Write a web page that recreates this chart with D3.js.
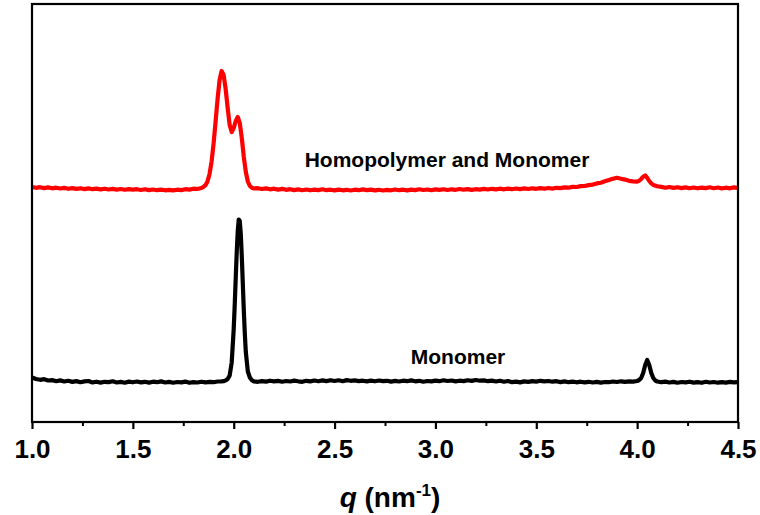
<!DOCTYPE html>
<html>
<head>
<meta charset="utf-8">
<script src="https://cdn.jsdelivr.net/npm/d3@7"></script>
<style>
  body { margin: 0; background: #fff; }
  text { font-family: "Liberation Sans", Arial, sans-serif; font-weight: bold; fill: #000; }
</style>
</head>
<body>
<div id="container"></div>
<script>
// x ticks
const majorTicks = [1.0, 1.5, 2.0, 2.5, 3.0, 3.5, 4.0, 4.5];
const minorTicks = [1.25, 1.75, 2.25, 2.75, 3.25, 3.75, 4.25];

// series labels
const labels = ["Homopolymer and Monomer", "Monomer"];

// Monomer: [q, intensity]
const monomer = [
  [1.00,44.5],[1.02,43.0],[1.04,42.2],[1.06,42.8],[1.08,41.5],[1.10,41.9],[1.12,40.8],[1.14,41.6],
  [1.16,40.5],[1.18,41.2],[1.20,40.1],[1.22,40.9],[1.24,39.8],[1.26,40.6],[1.28,41.0],[1.30,39.6],
  [1.32,40.3],[1.34,39.4],[1.36,40.2],[1.38,39.9],[1.40,40.7],[1.42,39.5],[1.44,40.1],[1.46,39.3],
  [1.48,40.4],[1.50,39.7],[1.52,40.5],[1.54,39.6],[1.56,40.2],[1.58,39.4],[1.60,40.3],[1.62,39.8],
  [1.64,40.6],[1.66,39.5],[1.68,40.1],[1.70,39.3],[1.72,40.0],[1.74,39.6],[1.76,40.4],[1.78,39.2],
  [1.80,39.9],[1.82,39.5],[1.84,40.3],[1.86,39.6],[1.88,40.2],[1.90,39.8],[1.92,40.5],[1.94,40.6],
  [1.95,40.8],[1.96,41.6],[1.97,43.0],[1.98,46.5],[1.99,59.5],[2.00,93],[2.005,117],[2.01,144],
  [2.015,170],[2.02,191],[2.025,202.5],[2.03,201],[2.035,188],[2.04,166],[2.045,139],[2.05,112],
  [2.055,88.5],[2.06,70],[2.07,50.5],[2.08,44.5],[2.09,41.8],[2.10,40.6],
  [2.12,40.2],[2.14,40.9],[2.16,40.4],[2.18,41.3],[2.20,40.6],[2.22,41.1],[2.24,40.3],[2.26,41.0],
  [2.28,40.5],[2.30,41.4],[2.32,40.7],[2.34,40.2],[2.36,41.2],[2.38,40.6],[2.40,41.5],[2.42,40.8],
  [2.44,41.6],[2.46,40.9],[2.48,41.8],[2.50,41.0],[2.52,41.7],[2.54,40.8],[2.56,41.9],[2.58,41.2],
  [2.60,41.6],[2.62,40.9],[2.64,41.3],[2.66,40.6],[2.68,41.4],[2.70,40.7],[2.72,41.5],[2.74,40.9],
  [2.76,41.2],[2.78,40.4],[2.80,41.1],[2.82,40.5],[2.84,41.3],[2.86,40.8],[2.88,41.6],[2.90,40.7],
  [2.92,41.2],[2.94,40.3],[2.96,41.0],[2.98,40.6],[3.00,41.4],[3.02,40.8],[3.04,41.7],[3.06,41.0],
  [3.08,41.5],[3.10,40.6],[3.12,41.3],[3.14,40.9],[3.16,41.8],[3.18,41.1],[3.20,42.0],[3.22,41.3],
  [3.24,41.6],[3.26,40.8],[3.28,41.4],[3.30,40.5],[3.32,41.2],[3.34,40.3],[3.36,41.0],[3.38,39.8],
  [3.40,40.4],[3.42,39.6],[3.44,40.6],[3.46,40.1],[3.48,40.9],[3.50,40.4],[3.52,41.2],[3.54,40.6],
  [3.56,41.0],[3.58,40.3],[3.60,40.8],[3.62,39.9],[3.64,40.6],[3.66,39.8],[3.68,40.4],[3.70,39.7],
  [3.72,40.3],[3.74,39.6],[3.76,40.2],[3.78,39.5],[3.80,40.1],[3.82,39.4],[3.84,40.0],[3.86,39.8],
  [3.88,40.5],[3.90,40.0],[3.92,40.7],[3.94,40.2],[3.96,40.6],[3.98,40.4],
  [4.00,41.0],[4.01,42.0],[4.02,44.0],[4.03,49.0],[4.04,57.0],[4.05,62.0],[4.06,57.0],[4.07,49.0],
  [4.08,44.0],[4.09,41.5],[4.10,40.5],
  [4.12,39.8],[4.14,40.4],[4.16,39.5],[4.18,40.1],[4.20,39.3],[4.22,40.0],[4.24,39.6],[4.26,40.3],
  [4.28,39.4],[4.30,39.9],[4.32,39.2],[4.34,40.2],[4.36,39.5],[4.38,40.0],[4.40,39.3],[4.42,39.9],
  [4.44,39.4],[4.46,40.1],[4.48,39.6],[4.50,39.9]
];

// Homopolymer and Monomer (already offset upward as in the picture)
const homopolymer = [
  [1.00,235.0],[1.02,234.2],[1.04,234.8],[1.06,233.9],[1.08,234.6],[1.10,233.7],[1.12,234.3],[1.14,233.5],
  [1.16,234.1],[1.18,233.2],[1.20,233.9],[1.22,233.1],[1.24,233.7],[1.26,232.9],[1.28,233.6],[1.30,232.8],
  [1.32,233.4],[1.34,232.6],[1.36,233.3],[1.38,232.5],[1.40,233.1],[1.42,232.4],[1.44,233.0],[1.46,232.2],
  [1.48,232.9],[1.50,232.3],[1.52,232.8],[1.54,232.0],[1.56,232.7],[1.58,231.9],[1.60,232.5],[1.62,231.8],
  [1.64,232.4],[1.66,231.7],[1.68,232.2],[1.70,231.6],[1.72,232.3],[1.74,231.9],[1.76,232.8],[1.78,232.4],
  [1.80,233.3],[1.82,233.0],[1.84,234.0],
  [1.85,235.1],[1.86,236.8],[1.87,240.6],[1.88,247.8],[1.89,260],[1.90,278],[1.91,300],[1.92,323],
  [1.93,342],[1.94,351],[1.95,347],[1.96,333],[1.97,314],[1.98,297],[1.99,290],[2.00,294],
  [2.01,301],[2.02,305],[2.03,299],[2.04,284],[2.05,265],[2.06,250],[2.07,240.5],[2.08,236],
  [2.09,234.3],[2.10,233.6],
  [2.12,233.8],[2.14,233.0],[2.16,233.6],[2.18,232.7],[2.20,233.3],[2.22,232.4],[2.24,233.1],[2.26,232.2],
  [2.28,232.8],[2.30,231.9],[2.32,232.6],[2.34,231.8],[2.36,232.5],[2.38,231.7],[2.40,232.4],[2.42,231.9],
  [2.44,232.7],[2.46,231.8],[2.48,232.3],[2.50,231.6],[2.52,232.4],[2.54,231.7],[2.56,232.2],[2.58,231.5],
  [2.60,232.3],[2.62,231.8],[2.64,232.6],[2.66,231.9],[2.68,232.4],[2.70,231.6],[2.72,232.2],[2.74,231.5],
  [2.76,232.1],[2.78,231.7],[2.80,232.5],[2.82,231.8],[2.84,232.3],[2.86,231.6],[2.88,232.4],[2.90,231.9],
  [2.92,232.7],[2.94,232.0],[2.96,232.5],[2.98,231.8],[3.00,232.6],[3.02,232.1],[3.04,232.8],[3.06,232.0],
  [3.08,232.7],[3.10,232.2],[3.12,233.0],[3.14,232.3],[3.16,232.9],[3.18,232.1],[3.20,232.8],[3.22,232.4],
  [3.24,233.1],[3.26,232.5],[3.28,233.2],[3.30,232.6],[3.32,233.3],[3.34,232.7],[3.36,233.4],[3.38,232.8],
  [3.40,233.5],[3.42,232.9],[3.44,233.6],[3.46,233.0],[3.48,233.7],[3.50,233.2],[3.52,233.9],[3.54,233.3],
  [3.56,234.0],[3.58,233.4],[3.60,234.2],[3.62,233.9],[3.64,234.6],[3.66,234.3],[3.68,235.1],[3.70,235.0],
  [3.72,235.9],[3.74,236.0],[3.76,236.9],[3.78,237.4],[3.80,238.6],[3.82,239.3],[3.84,240.7],[3.86,241.9],
  [3.88,243.2],[3.90,244.2],[3.92,243.3],[3.94,242.4],[3.96,241.2],[3.98,240.6],
  [4.00,240.4],[4.01,241.2],[4.02,243.0],[4.03,245.3],[4.04,246.6],[4.05,244.2],[4.06,241.0],[4.07,238.6],
  [4.08,237.1],[4.10,235.8],[4.12,235.1],
  [4.14,234.2],[4.16,235.0],[4.18,234.1],[4.20,234.8],[4.22,233.9],[4.24,234.6],[4.26,233.8],[4.28,234.5],
  [4.30,233.7],[4.32,234.4],[4.34,233.9],[4.36,234.7],[4.38,233.8],[4.40,234.5],[4.42,233.6],[4.44,234.3],
  [4.46,233.7],[4.48,234.6],[4.50,234.1]
];

const width = 760, height = 515;
const margin = { top: 4, right: 22, bottom: 93, left: 32 };

const svg = d3.select('#container')
    .append('svg')
    .attr('width', width)
    .attr('height', height);

const x = d3.scaleLinear()
    .domain([1.0, 4.5])
    .range([margin.left, width - margin.right]);

const y = d3.scaleLinear()
    .domain([0, 418])
    .range([height - margin.bottom, margin.top]);

const line = d3.line()
    .x(d => x(d[0]))
    .y(d => y(d[1]));

// 曲线
svg.append('path')
    .datum(monomer)
    .attr('fill', 'none')
    .attr('stroke', '#000')
    .attr('stroke-width', 4.2)
    .attr('stroke-linejoin', 'round')
    .attr('d', line);

svg.append('path')
    .datum(homopolymer)
    .attr('fill', 'none')
    .attr('stroke', '#ff0000')
    .attr('stroke-width', 4.2)
    .attr('stroke-linejoin', 'round')
    .attr('d', line);

// 边框
svg.append('rect')
    .attr('x', margin.left)
    .attr('y', margin.top)
    .attr('width', width - margin.left - margin.right)
    .attr('height', height - margin.top - margin.bottom)
    .attr('fill', 'none')
    .attr('stroke', '#000')
    .attr('stroke-width', 2.2);

// x 轴刻度
const axisY = height - margin.bottom;
const majorAxis = svg.append('g')
    .attr('transform', `translate(0,${axisY})`)
    .call(d3.axisBottom(x).tickValues(majorTicks).tickSize(7).tickFormat(d3.format('.1f')));
majorAxis.select('.domain').remove();
majorAxis.selectAll('line').attr('stroke-width', 2.2);
majorAxis.selectAll('text')
    .attr('y', 36)
    .attr('dy', 0)
    .attr('font-size', 26)
    .style('font-family', '"Liberation Sans", Arial, sans-serif')
    .style('font-weight', 'bold');

const minorAxis = svg.append('g')
    .attr('transform', `translate(0,${axisY})`)
    .call(d3.axisBottom(x).tickValues(minorTicks).tickSize(4).tickFormat(''));
minorAxis.select('.domain').remove();
minorAxis.selectAll('line').attr('stroke-width', 2);

// 轴标题
const title = svg.append('text')
    .attr('x', 390)
    .attr('y', 507)
    .attr('text-anchor', 'middle')
    .attr('font-size', 28);
title.append('tspan').style('font-style', 'italic').text('q');
title.append('tspan').text(' (nm');
title.append('tspan').attr('font-size', 17).attr('dy', -11).text('-1');
title.append('tspan').attr('dy', 11).text(')');

// 曲线标签
svg.append('text')
    .attr('x', 447)
    .attr('y', 167)
    .attr('text-anchor', 'middle')
    .attr('font-size', 21)
    .text(labels[0]);

svg.append('text')
    .attr('x', 458)
    .attr('y', 364)
    .attr('text-anchor', 'middle')
    .attr('font-size', 21)
    .text(labels[1]);
</script>
</body>
</html>
